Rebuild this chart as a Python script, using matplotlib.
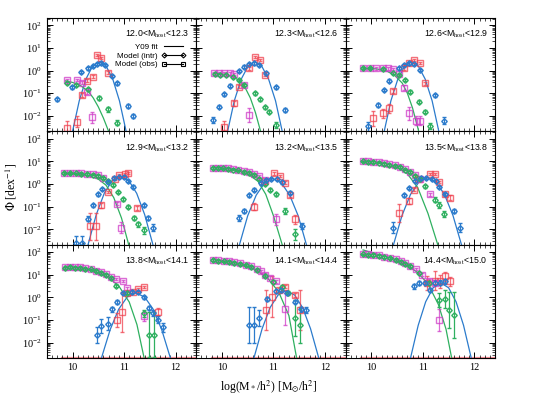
import numpy as np
import matplotlib
matplotlib.use("Agg")
import matplotlib.pyplot as plt
from matplotlib.lines import Line2D
from matplotlib.ticker import LogLocator, MultipleLocator, NullFormatter

plt.rcParams['font.family'] = ['Liberation Serif', 'DejaVu Serif']
plt.rcParams['mathtext.fontset'] = 'stix'

# ------------ data (x = log M*, y = log10 Phi, e = error in dex) -------------
host_bins = ["12.0", "12.3", "12.6", "12.9", "13.2", "13.5", "13.8", "14.1", "14.4", "15.0"]

# Y09 fit, centrals (blue curve)
cen_fit = [
    ([10.00, 10.13, 10.26, 10.39, 10.52, 10.65, 10.78, 10.91, 11.04], [-2.68, -1.33, -0.37, 0.21, 0.40, 0.21, -0.37, -1.33, -2.68]),
    ([10.11, 10.24, 10.375, 10.51, 10.64, 10.77, 10.905, 11.04, 11.17], [-2.68, -1.33, -0.37, 0.21, 0.40, 0.21, -0.37, -1.33, -2.68]),
    ([10.25, 10.38, 10.515, 10.65, 10.78, 10.91, 11.045, 11.18, 11.31], [-2.68, -1.33, -0.37, 0.21, 0.40, 0.21, -0.37, -1.33, -2.68]),
    ([10.30, 10.46, 10.615, 10.77, 10.93, 11.09, 11.245, 11.40, 11.56], [-2.68, -1.35, -0.41, 0.16, 0.35, 0.16, -0.41, -1.35, -2.68]),
    ([10.34, 10.50, 10.665, 10.83, 10.99, 11.15, 11.315, 11.48, 11.64], [-2.68, -1.40, -0.49, 0.06, 0.24, 0.06, -0.49, -1.40, -2.68]),
    ([10.43, 10.595, 10.76, 10.925, 11.09, 11.255, 11.42, 11.585, 11.75], [-2.68, -1.39, -0.46, 0.095, 0.28, 0.095, -0.46, -1.39, -2.68]),
    ([10.56, 10.73, 10.895, 11.06, 11.23, 11.40, 11.565, 11.73, 11.90], [-2.68, -1.42, -0.52, 0.02, 0.20, 0.02, -0.52, -1.42, -2.68]),
    ([10.62, 10.78, 10.935, 11.09, 11.25, 11.41, 11.565, 11.72, 11.88], [-2.68, -1.38, -0.445, 0.11, 0.30, 0.11, -0.445, -1.38, -2.68]),
    ([10.76, 10.91, 11.055, 11.20, 11.35, 11.50, 11.645, 11.79, 11.94], [-2.68, -1.23, -0.19, 0.43, 0.64, 0.43, -0.19, -1.23, -2.68]),
]

# Y09 fit, satellites (green curve)
sat_fit = [
    ([9.86, 10.0, 10.15, 10.3, 10.4, 10.5, 10.6, 10.70], [-0.45, -0.52, -0.65, -0.90, -1.2, -1.6, -2.1, -2.68]),
    ([9.83, 10.0, 10.2, 10.35, 10.45, 10.55, 10.65, 10.75], [-0.12, -0.14, -0.25, -0.45, -0.75, -1.2, -1.85, -2.68]),
    ([9.84, 10.1, 10.3, 10.45, 10.6, 10.7, 10.8, 10.92], [0.10, 0.08, -0.02, -0.2, -0.55, -1.0, -1.65, -2.68]),
    ([9.84, 10.1, 10.3, 10.5, 10.65, 10.8, 10.95, 11.09], [0.47, 0.45, 0.38, 0.22, -0.05, -0.6, -1.5, -2.68]),
    ([9.83, 10.1, 10.3, 10.5, 10.7, 10.85, 11.0, 11.17], [0.72, 0.70, 0.62, 0.45, 0.12, -0.45, -1.4, -2.68]),
    ([9.84, 10.1, 10.3, 10.5, 10.7, 10.9, 11.1, 11.29], [1.02, 0.98, 0.90, 0.75, 0.45, -0.15, -1.3, -2.68]),
    ([9.85, 10.1, 10.3, 10.5, 10.7, 10.9, 11.1, 11.25, 11.39], [1.38, 1.32, 1.24, 1.10, 0.88, 0.50, -0.2, -1.2, -2.68]),
    ([9.83, 10.1, 10.3, 10.5, 10.7, 10.9, 11.1, 11.3, 11.45], [1.68, 1.60, 1.52, 1.38, 1.16, 0.82, 0.25, -0.8, -2.68]),
    ([9.84, 10.1, 10.3, 10.5, 10.7, 10.9, 11.1, 11.3, 11.45, 11.56], [2.10, 1.92, 1.80, 1.65, 1.42, 1.10, 0.60, -0.3, -1.4, -2.68]),
]

# Model (intr), centrals (blue diamonds)
cen_intr = [
    ([9.70, 9.98, 10.17, 10.30, 10.39, 10.47, 10.55, 10.63, 10.77, 10.87, 11.07, 11.18],
     [-1.27, -0.74, -0.07, 0.10, 0.22, 0.29, 0.33, 0.25, -0.24, -0.56, -1.56, -2.01],
     [0.08, 0.06, 0.05, 0.05, 0.05, 0.05, 0.05, 0.05, 0.05, 0.06, 0.08, 0.10]),
    ([9.83, 9.94, 10.04, 10.15, 10.34, 10.43, 10.53, 10.62, 10.72, 10.86, 11.04, 11.23],
     [-2.18, -1.59, -1.05, -0.66, 0.0, 0.18, 0.28, 0.32, 0.25, -0.12, -0.74, -1.74],
     [0.12, 0.08, 0.06, 0.05, 0.05, 0.05, 0.05, 0.05, 0.05, 0.05, 0.06, 0.10]),
    ([9.94, 10.13, 10.24, 10.34, 10.53, 10.64, 10.73, 10.83, 10.94, 11.23, 11.42],
     [-2.45, -1.52, -0.86, -0.44, 0.10, 0.25, 0.32, 0.29, 0.03, -1.08, -2.21],
     [0.20, 0.10, 0.06, 0.05, 0.05, 0.05, 0.05, 0.05, 0.05, 0.07, 0.15]),
    ([10.07, 10.18, 10.30, 10.39, 10.49, 10.58, 10.69, 10.81, 10.90, 11.0, 11.07, 11.17, 11.38, 11.46, 11.57],
     [-2.60, -2.60, -1.53, -0.94, -0.46, -0.21, 0.09, 0.25, 0.32, 0.32, 0.13, -0.12, -0.94, -1.49, -1.93],
     [0.30, 0.30, 0.12, 0.07, 0.05, 0.05, 0.05, 0.05, 0.05, 0.05, 0.05, 0.06, 0.08, 0.10, 0.15]),
    ([10.34, 10.43, 10.53, 10.62, 10.75, 10.86, 10.96, 11.07, 11.17, 11.33, 11.55],
     [-1.49, -1.19, -0.50, -0.24, 0.03, 0.18, 0.24, 0.21, 0.07, -0.38, -1.85],
     [0.12, 0.10, 0.06, 0.05, 0.05, 0.05, 0.05, 0.05, 0.05, 0.06, 0.15]),
    ([10.43, 10.64, 10.73, 10.85, 10.96, 11.06, 11.18, 11.26, 11.32, 11.43, 11.61, 11.72],
     [-1.93, -0.50, -0.16, 0.13, 0.28, 0.28, 0.21, 0.13, -0.12, -0.45, -1.19, -1.93],
     [0.25, 0.06, 0.05, 0.05, 0.05, 0.05, 0.05, 0.05, 0.05, 0.06, 0.10, 0.20]),
    ([10.47, 10.56, 10.68, 10.77, 10.87, 10.98, 11.15, 11.27, 11.39, 11.49, 11.57, 11.66, 11.76],
     [-1.65, -1.25, -1.15, -0.53, -0.20, 0.19, 0.26, 0.24, 0.0, -0.47, -0.69, -0.99, -1.31],
     [0.35, 0.30, 0.30, 0.10, 0.07, 0.05, 0.05, 0.05, 0.06, 0.10, 0.12, 0.15, 0.20]),
    ([10.52, 10.62, 10.72, 10.88, 11.04, 11.15, 11.26, 11.42, 11.54, 11.64],
     [-1.22, -1.22, -0.92, -0.07, 0.27, 0.33, 0.22, -0.18, -0.52, -0.55],
     [0.80, 0.80, 0.35, 0.10, 0.06, 0.05, 0.06, 0.08, 0.12, 0.12]),
    ([10.83, 10.92, 11.04, 11.13, 11.23, 11.34, 11.43],
     [0.49, 0.63, 0.66, 0.34, 0.66, 0.66, 0.71],
     [0.10, 0.08, 0.08, 0.10, 0.10, 0.10, 0.10]),
]

# Model (intr), satellites (green diamonds)
sat_intr = [
    ([9.89, 10.07, 10.30, 10.51, 10.68, 10.87],
     [-0.53, -0.63, -0.83, -1.22, -1.71, -2.30],
     [0.05, 0.05, 0.06, 0.08, 0.10, 0.12]),
    ([9.86, 9.96, 10.08, 10.21, 10.33, 10.43, 10.64, 10.73, 10.83, 10.92, 11.04],
     [-0.15, -0.19, -0.19, -0.27, -0.41, -0.63, -1.0, -1.27, -1.62, -1.81, -2.40],
     [0.04, 0.04, 0.04, 0.04, 0.04, 0.05, 0.06, 0.07, 0.08, 0.08, 0.12]),
    ([9.84, 9.97, 10.22, 10.43, 10.54, 10.66, 10.75, 10.92, 11.04, 11.13],
     [0.10, 0.10, 0.06, -0.09, -0.19, -0.41, -0.93, -1.37, -1.81, -2.45],
     [0.04, 0.04, 0.04, 0.04, 0.05, 0.05, 0.06, 0.07, 0.08, 0.12]),
    ([9.84, 9.95, 10.06, 10.17, 10.28, 10.39, 10.50, 10.60, 10.69, 10.79, 10.88, 10.98, 11.07, 11.19, 11.27, 11.38],
     [0.48, 0.48, 0.47, 0.46, 0.45, 0.42, 0.36, 0.27, 0.13, -0.02, -0.34, -0.68, -1.0, -1.49, -1.78, -2.05],
     [0.04, 0.04, 0.04, 0.04, 0.04, 0.04, 0.04, 0.04, 0.05, 0.05, 0.05, 0.06, 0.07, 0.10, 0.12, 0.15]),
    ([9.83, 9.93, 10.02, 10.12, 10.22, 10.32, 10.42, 10.52, 10.62, 10.72, 10.83, 10.93, 11.04, 11.22, 11.41],
     [0.70, 0.70, 0.69, 0.67, 0.64, 0.60, 0.55, 0.49, 0.40, 0.22, 0.0, -0.25, -0.46, -1.19, -2.22],
     [0.04, 0.04, 0.04, 0.04, 0.04, 0.04, 0.04, 0.04, 0.04, 0.05, 0.05, 0.06, 0.07, 0.12, 0.25]),
    ([9.84, 9.94, 10.03, 10.14, 10.25, 10.35, 10.45, 10.56, 10.66, 10.75, 10.85, 10.94, 11.04, 11.23, 11.32, 11.42],
     [1.0, 0.99, 0.98, 0.95, 0.90, 0.86, 0.80, 0.74, 0.64, 0.52, 0.37, 0.22, -0.10, -0.69, -0.92, -1.32],
     [0.04, 0.04, 0.04, 0.04, 0.04, 0.04, 0.04, 0.04, 0.04, 0.04, 0.05, 0.05, 0.06, 0.10, 0.12, 0.15]),
    ([9.86, 9.95, 10.05, 10.15, 10.25, 10.35, 10.45, 10.55, 10.65, 10.75, 10.85, 11.06, 11.39, 11.49, 11.58],
     [1.32, 1.33, 1.32, 1.32, 1.27, 1.24, 1.16, 1.08, 0.98, 0.85, 0.52, 0.22, -0.70, -1.65, -1.65],
     [0.04, 0.04, 0.04, 0.04, 0.04, 0.04, 0.04, 0.04, 0.04, 0.05, 0.06, 0.08, 0.15, 1.0, 1.0]),
    ([9.83, 9.93, 10.04, 10.14, 10.24, 10.35, 10.47, 10.57, 10.69, 10.83, 11.0, 11.17, 11.29, 11.42, 11.52],
     [1.64, 1.62, 1.59, 1.57, 1.53, 1.49, 1.42, 1.34, 1.22, 0.97, 0.70, 0.48, 0.19, -0.92, -1.22],
     [0.04, 0.04, 0.04, 0.04, 0.04, 0.04, 0.04, 0.04, 0.04, 0.05, 0.06, 0.07, 0.10, 0.8, 0.8]),
    ([9.84, 9.94, 10.03, 10.14, 10.25, 10.36, 10.48, 10.57, 10.66, 10.76, 10.92, 11.12, 11.31, 11.43, 11.51, 11.61],
     [1.90, 1.88, 1.86, 1.83, 1.78, 1.73, 1.66, 1.57, 1.49, 1.37, 1.08, 0.63, -0.10, -0.07, -0.55, -0.77],
     [0.04, 0.04, 0.04, 0.04, 0.04, 0.04, 0.04, 0.04, 0.04, 0.05, 0.06, 0.08, 0.3, 0.4, 0.8, 1.0]),
]

# Model (obs), centrals (red squares)
cen_obs = [
    ([9.89, 10.09, 10.18, 10.28, 10.39, 10.48, 10.56, 10.68],
     [-2.52, -2.26, -1.08, -0.44, -0.27, 0.69, 0.55, -0.09],
     [0.30, 0.25, 0.10, 0.06, 0.06, 0.05, 0.05, 0.06]),
    ([10.04, 10.24, 10.34, 10.53, 10.64, 10.73, 10.83],
     [-2.51, -1.45, -0.71, 0.10, 0.59, 0.47, -0.19],
     [0.30, 0.12, 0.07, 0.05, 0.05, 0.05, 0.06]),
    ([10.03, 10.22, 10.34, 10.43, 10.64, 10.73, 10.83, 10.94, 11.04],
     [-2.11, -1.89, -1.67, -0.89, 0.10, 0.32, 0.47, 0.35, -0.56],
     [0.35, 0.20, 0.20, 0.08, 0.05, 0.05, 0.05, 0.05, 0.06]),
    ([10.34, 10.46, 10.56, 10.68, 10.82, 10.91, 11.01, 11.07, 11.26],
     [-1.86, -1.86, -0.94, -0.35, 0.21, 0.38, 0.43, 0.50, -1.05],
     [0.60, 0.60, 0.10, 0.06, 0.05, 0.05, 0.05, 0.05, 0.10]),
    ([10.62, 10.83, 11.01, 11.12, 11.22, 11.33, 11.42],
     [-1.0, 0.14, 0.47, 0.35, 0.06, -0.50, -1.56],
     [0.15, 0.05, 0.05, 0.05, 0.06, 0.08, 0.20]),
    ([10.53, 10.73, 10.83, 10.92, 11.13, 11.23, 11.31, 11.43, 11.53],
     [-1.27, -0.75, -0.24, 0.21, 0.43, 0.46, 0.09, -0.46, -0.60],
     [0.40, 0.15, 0.08, 0.05, 0.05, 0.05, 0.05, 0.08, 0.10]),
    ([10.87, 10.96, 11.06, 11.17, 11.27, 11.38, 11.65],
     [-1.0, -0.64, 0.21, 0.25, 0.36, 0.45, -0.63],
     [0.30, 0.90, 0.05, 0.05, 0.05, 0.05, 0.15]),
    ([10.86, 10.98, 11.10, 11.22, 11.42, 11.52],
     [-0.55, 0.04, 0.33, 0.48, 0.11, -0.55],
     [0.90, 0.90, 0.10, 0.08, 0.10, 0.90]),
    ([11.08, 11.23, 11.34, 11.43, 11.53],
     [0.63, 0.75, 0.71, 0.93, 0.71],
     [0.30, 0.40, 0.30, 0.20, 0.20]),
]

# Model (obs), satellites (magenta squares)
sat_obs = [
    ([9.89, 10.09, 10.18, 10.28, 10.37],
     [-0.41, -0.41, -0.53, -0.93, -2.06],
     [0.05, 0.05, 0.06, 0.08, 0.25]),
    ([9.84, 9.94, 10.04, 10.15, 10.24, 10.43, 10.53],
     [-0.12, -0.09, -0.09, -0.12, -0.15, -0.63, -1.96],
     [0.05, 0.05, 0.05, 0.05, 0.05, 0.07, 0.30]),
    ([9.84, 9.97, 10.10, 10.22, 10.33, 10.43, 10.54, 10.64, 10.73, 10.86, 10.94],
     [0.10, 0.10, 0.10, 0.13, 0.10, 0.07, -0.15, -0.75, -1.89, -2.21, -2.21],
     [0.05, 0.05, 0.05, 0.05, 0.05, 0.05, 0.06, 0.10, 0.30, 0.20, 0.20]),
    ([9.84, 9.95, 10.06, 10.17, 10.28, 10.39, 10.50, 10.60, 10.87, 10.95],
     [0.50, 0.50, 0.48, 0.47, 0.46, 0.44, 0.38, 0.28, -0.86, -1.93],
     [0.05, 0.05, 0.05, 0.05, 0.05, 0.05, 0.05, 0.05, 0.08, 0.25]),
    ([9.83, 9.93, 10.02, 10.12, 10.22, 10.32, 10.42, 10.52, 10.62, 10.72, 10.83, 11.04],
     [0.72, 0.72, 0.72, 0.70, 0.66, 0.63, 0.56, 0.52, 0.45, 0.35, 0.18, -1.56],
     [0.05, 0.05, 0.05, 0.05, 0.05, 0.05, 0.05, 0.05, 0.05, 0.05, 0.05, 0.25]),
    ([9.84, 9.94, 10.03, 10.14, 10.25, 10.35, 10.45, 10.56, 10.66, 10.75, 10.85, 10.94, 11.13],
     [1.02, 1.01, 0.99, 0.96, 0.91, 0.87, 0.83, 0.75, 0.65, 0.53, 0.38, 0.23, -0.46],
     [0.05, 0.05, 0.05, 0.05, 0.05, 0.05, 0.05, 0.05, 0.05, 0.05, 0.05, 0.05, 0.08]),
    ([9.86, 9.95, 10.05, 10.15, 10.25, 10.35, 10.45, 10.55, 10.65, 10.75, 10.85, 10.98, 11.06, 11.38],
     [1.34, 1.36, 1.34, 1.36, 1.30, 1.27, 1.19, 1.12, 1.02, 0.92, 0.81, 0.73, 0.40, -0.84],
     [0.05, 0.05, 0.05, 0.05, 0.05, 0.05, 0.05, 0.05, 0.05, 0.05, 0.05, 0.06, 0.08, 0.20]),
    ([9.83, 9.93, 10.04, 10.14, 10.24, 10.35, 10.47, 10.57, 10.69, 10.76, 10.83, 10.94, 11.04, 11.23],
     [1.67, 1.65, 1.62, 1.60, 1.56, 1.52, 1.45, 1.38, 1.26, 1.15, 1.01, 0.88, 0.71, -0.52],
     [0.05, 0.05, 0.05, 0.05, 0.05, 0.05, 0.05, 0.05, 0.05, 0.05, 0.05, 0.05, 0.06, 0.70]),
    ([9.84, 9.94, 10.03, 10.14, 10.25, 10.36, 10.48, 10.57, 10.66, 10.76, 10.86, 10.99, 11.12, 11.23, 11.31],
     [1.93, 1.91, 1.89, 1.86, 1.81, 1.76, 1.69, 1.60, 1.52, 1.40, 1.27, 1.0, 0.75, 0.63, -0.99],
     [0.05, 0.05, 0.05, 0.05, 0.05, 0.05, 0.05, 0.05, 0.05, 0.05, 0.05, 0.06, 0.08, 0.10, 0.50]),
]

BLUE = '#2b7bcc'
GREEN = '#2fb060'
RED = '#f0404e'
MAGENTA = '#d03cc8'
YMIN, YMAX = 2.1e-3, 2.15e2


def draw_points(ax, series, color, marker, ms, alpha):
    x, ly, e = (np.array(v, dtype=float) for v in series)
    y = 10 ** ly
    lo = y - 10 ** (ly - e)
    hi = 10 ** (ly + e) - y
    ax.errorbar(x, y, yerr=[lo, hi], fmt=marker, ms=ms, mfc='none', mec=color,
                mew=1.0, ecolor=color, elinewidth=0.9, capsize=1.6, capthick=0.9,
                alpha=alpha, zorder=3)


fig, axes = plt.subplots(3, 3, figsize=(5.38, 3.97), dpi=100, sharex=True, sharey=True)
fig.subplots_adjust(left=0.087, right=0.920, top=0.955, bottom=0.098, wspace=0, hspace=0)

for i, ax in enumerate(axes.flat):
    ax.set_xscale('linear')
    ax.set_yscale('log')
    ax.set_xlim(9.5, 12.4)
    ax.set_ylim(YMIN, YMAX)

    fx, fy = cen_fit[i]
    ax.plot(fx, 10 ** np.array(fy), color=BLUE, lw=0.9, zorder=2)
    gx, gy = sat_fit[i]
    ax.plot(gx, 10 ** np.array(gy), color=GREEN, lw=0.9, zorder=2)

    draw_points(ax, cen_obs[i], RED, 's', 4.5, 0.75)
    draw_points(ax, sat_obs[i], MAGENTA, 's', 4.5, 0.75)
    draw_points(ax, sat_intr[i], GREEN, 'D', 2.8, 1.0)
    draw_points(ax, cen_intr[i], BLUE, 'D', 2.8, 1.0)

    if i >= 6:
        ax.plot([9.8, 12.4], [YMIN * 1.04, YMIN * 1.04], color=RED, lw=1.6, alpha=0.6,
                clip_on=False, zorder=1)

    ax.text(0.95, 0.85, host_bins[i] + r'<M$_{\rm host}$<' + host_bins[i + 1],
            transform=ax.transAxes, ha='right', va='center', fontsize=6.3,
            family='Liberation Sans')

    ax.tick_params(which='both', direction='in', top=True, right=True, labelsize=7.5)
    ax.tick_params(which='major', length=4.5, width=0.7)
    ax.tick_params(which='minor', length=2.2, width=0.5)
    ax.xaxis.set_major_locator(MultipleLocator(1))
    ax.xaxis.set_minor_locator(MultipleLocator(0.1))
    ax.yaxis.set_major_locator(LogLocator(base=10, numticks=10))
    ax.yaxis.set_minor_locator(LogLocator(base=10, subs=np.arange(2, 10), numticks=10))
    ax.yaxis.set_minor_formatter(NullFormatter())
    for sp in ax.spines.values():
        sp.set_linewidth(0.8)

# legend in first panel
handles = [
    Line2D([], [], color='k', lw=0.8),
    Line2D([], [], color='k', lw=0.8, marker='D', ms=2.5, mfc='none', mew=0.8),
    Line2D([], [], color='k', lw=0.8, marker='s', ms=3.2, mfc='none', mew=0.8),
]
axes[0, 0].legend(handles, ['Y09 fit', 'Model (intr)', 'Model (obs)'], loc='upper right',
                  bbox_to_anchor=(0.96, 0.82), frameon=False, markerfirst=False, numpoints=2,
                  handlelength=3.0, handletextpad=0.4, labelspacing=0.15, borderpad=0.1,
                  prop={'family': 'Liberation Sans', 'size': 5.8})

fig.text(0.50, 0.025, r'log(M$_*$/h$^2$) [M$_{\odot}$/h$^2$]', ha='center', va='center', fontsize=8.5)
fig.text(0.022, 0.53, r'$\Phi$ [dex$^{-1}$]', ha='center', va='center', rotation=90, fontsize=8.5)

fig.savefig('out.png', dpi=100)
